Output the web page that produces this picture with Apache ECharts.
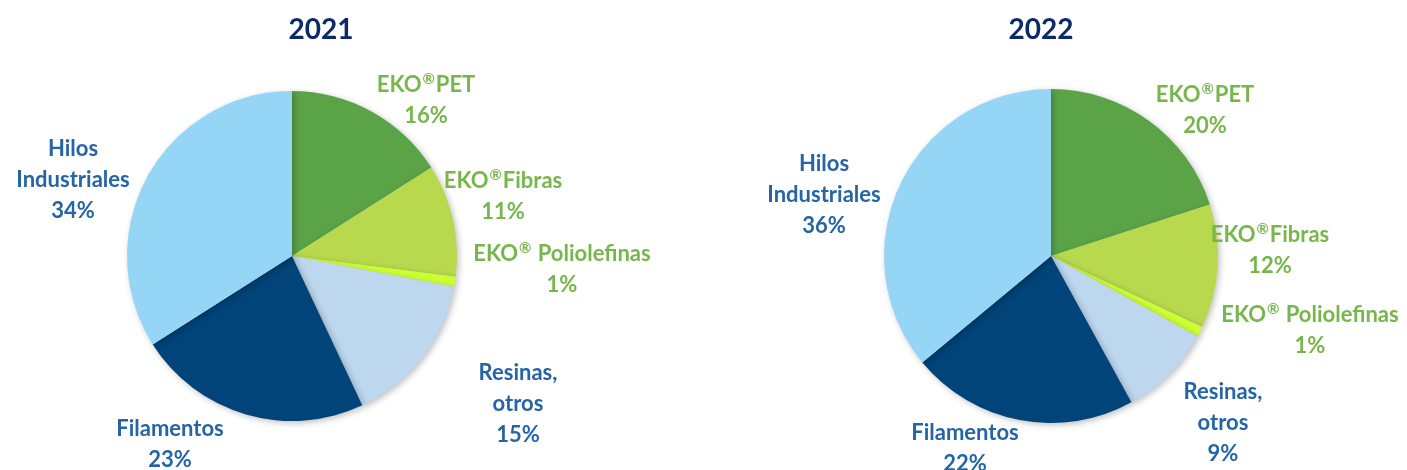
<!DOCTYPE html>
<html>
<head>
<meta charset="utf-8">
<script src="https://cdn.jsdelivr.net/npm/echarts@6/dist/echarts.min.js"></script>
<style>
  html, body { margin: 0; padding: 0; background: #fff; }
  #chart { width: 1407px; height: 470px; }
</style>
</head>
<body>
<div id="chart"></div>
<script>
// segment names (clockwise from 12 o'clock)
const categories = ['EKO®PET', 'EKO®Fibras', 'EKO® Poliolefinas', 'Resinas,\notros', 'Filamentos', 'Hilos\nIndustriales'];
const years = ['2021', '2022'];
const values2021 = [16, 11, 1, 15, 23, 34];
const values2022 = [20, 12, 1, 9, 22, 36];

const sliceColors = ['#5aa347', '#b8d94d', '#ccff33', '#bdd7ee', '#00447a', '#95d6f6'];
const labelColors = ['#77b64b', '#77b64b', '#77b64b', '#2565a6', '#2565a6', '#2565a6'];

// label offsets from pie centre, per slice
const offsets2021 = [[134, -156], [211, -60], [270, 13], [226, 148], [-122, 188], [-219, -76]];
const offsets2022 = [[154, -146], [219, -6], [259, 74], [172, 167], [-86, 192], [-227, -61]];

const FONT = 'Lato, "Open Sans", sans-serif';

function labelText(p) {
  const name = p.name.split('\n').map(l => '{t|' + l.replace('®', '}{s|®}{t|') + '}').join('\n');
  return name + '\n{t|' + p.value + '%}';
}

function pieSeries(values, center, radius, offsets) {
  return {
    type: 'pie',
    center: center,
    radius: radius,
    startAngle: 90,
    clockwise: true,
    avoidLabelOverlap: false,
    data: categories.map((name, i) => ({
      name: name,
      value: values[i],
      itemStyle: { color: sliceColors[i] },
      label: { color: labelColors[i] }
    })),
    itemStyle: {
      borderWidth: 0,
      shadowBlur: 6,
      shadowOffsetX: 2,
      shadowOffsetY: 2,
      shadowColor: 'rgba(0,0,0,0.25)'
    },
    label: {
      show: true,
      position: 'outside',
      formatter: labelText,
      fontFamily: FONT,
      fontWeight: 'bold',
      fontSize: 22,
      lineHeight: 31,
      align: 'center',
      rich: {
        t: { fontFamily: FONT, fontWeight: 'bold', fontSize: 22, lineHeight: 31 },
        s: { fontFamily: FONT, fontWeight: 'bold', fontSize: 15, lineHeight: 31, padding: [0, 1, 10, 1] }
      }
    },
    labelLine: { show: false },
    labelLayout: function (p) {
      const o = offsets[p.dataIndex];
      return { x: center[0] + o[0], y: center[1] + o[1], align: 'center', verticalAlign: 'middle' };
    },
    emphasis: { disabled: true },
    animation: false
  };
}

const chart = echarts.init(document.getElementById('chart'));
chart.setOption({
  backgroundColor: '#fff',
  title: [
    { text: years[0], left: 316, top: 11, textAlign: 'center',
      textStyle: { fontFamily: FONT, fontWeight: 'bold', fontSize: 28, color: '#0c2a6a' } },
    { text: years[1], left: 1036, top: 11, textAlign: 'center',
      textStyle: { fontFamily: FONT, fontWeight: 'bold', fontSize: 28, color: '#0c2a6a' } }
  ],
  series: [
    pieSeries(values2021, [292, 256], 165, offsets2021),
    pieSeries(values2022, [1051, 256], 167, offsets2022)
  ]
});
</script>
</body>
</html>
